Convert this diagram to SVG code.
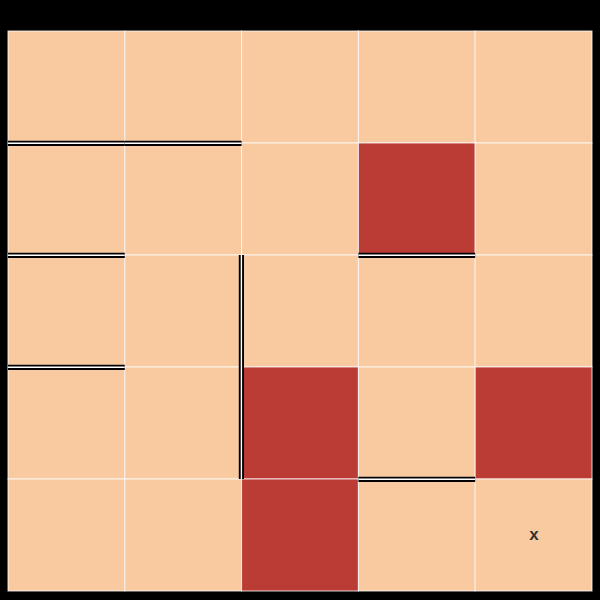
<svg xmlns="http://www.w3.org/2000/svg" width="600" height="600" viewBox="0 0 600 600">
<style>
.c{fill:#f9c9a0;stroke:#ffffff;stroke-width:1;stroke-opacity:0.8}
.r{fill:#bb3b35}
.wb{stroke:#000;stroke-width:5.2;fill:none}
.ww{stroke:#fff;stroke-width:1.4;fill:none}
.t{font-family:"Liberation Sans",Arial,sans-serif;font-size:17px;font-weight:bold;fill:#333;text-anchor:middle}
</style>
<defs>
<g id="wallH"><line class="wb" x1="0" y1="0" x2="116.8" y2="0"/><line class="ww" x1="0" y1="0" x2="116.8" y2="0"/></g>
<g id="wallV"><line class="wb" x1="0" y1="0" x2="0" y2="112"/><line class="ww" x1="0" y1="0" x2="0" y2="112"/></g>
</defs>
<rect x="0" y="0" width="600" height="600" fill="#000"/>
<g id="cells">
<rect class="c" x="8" y="31" width="116.8" height="112"/>
<rect class="c" x="124.8" y="31" width="116.8" height="112"/>
<rect class="c" x="241.6" y="31" width="116.8" height="112"/>
<rect class="c" x="358.4" y="31" width="116.8" height="112"/>
<rect class="c" x="475.2" y="31" width="116.8" height="112"/>
<rect class="c" x="8" y="143" width="116.8" height="112"/>
<rect class="c" x="124.8" y="143" width="116.8" height="112"/>
<rect class="c" x="241.6" y="143" width="116.8" height="112"/>
<rect class="c r" x="358.4" y="143" width="116.8" height="112"/>
<rect class="c" x="475.2" y="143" width="116.8" height="112"/>
<rect class="c" x="8" y="255" width="116.8" height="112"/>
<rect class="c" x="124.8" y="255" width="116.8" height="112"/>
<rect class="c" x="241.6" y="255" width="116.8" height="112"/>
<rect class="c" x="358.4" y="255" width="116.8" height="112"/>
<rect class="c" x="475.2" y="255" width="116.8" height="112"/>
<rect class="c" x="8" y="367" width="116.8" height="112"/>
<rect class="c" x="124.8" y="367" width="116.8" height="112"/>
<rect class="c r" x="241.6" y="367" width="116.8" height="112"/>
<rect class="c" x="358.4" y="367" width="116.8" height="112"/>
<rect class="c r" x="475.2" y="367" width="116.8" height="112"/>
<rect class="c" x="8" y="479" width="116.8" height="112"/>
<rect class="c" x="124.8" y="479" width="116.8" height="112"/>
<rect class="c r" x="241.6" y="479" width="116.8" height="112"/>
<rect class="c" x="358.4" y="479" width="116.8" height="112"/>
<rect class="c" x="475.2" y="479" width="116.8" height="112"/>
</g>
<g id="walls">
<use href="#wallH" x="8" y="143.3"/>
<use href="#wallH" x="124.8" y="143.3"/>
<use href="#wallH" x="8" y="255.3"/>
<use href="#wallH" x="358.4" y="255.3"/>
<use href="#wallH" x="8" y="367.3"/>
<use href="#wallH" x="358.4" y="479.3"/>
<use href="#wallV" x="241.4" y="255"/>
<use href="#wallV" x="241.4" y="367"/>
</g>
<text class="t" x="534" y="540">x</text>
</svg>
